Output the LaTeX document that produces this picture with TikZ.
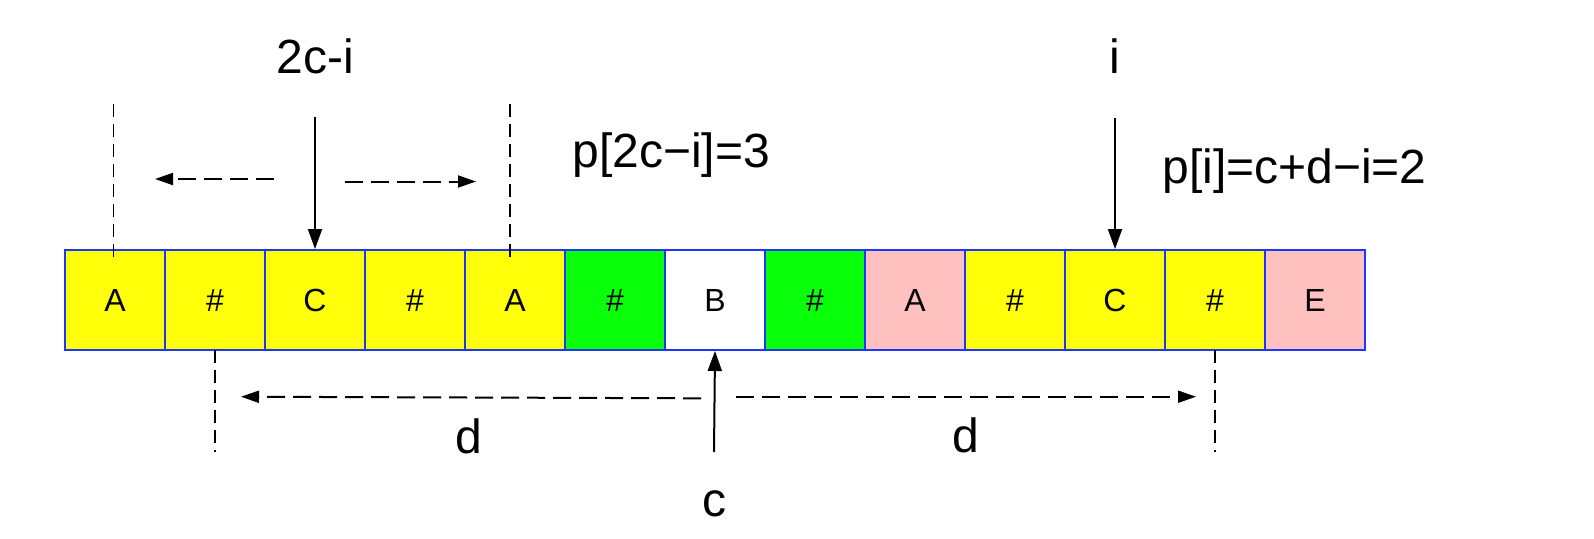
\documentclass[tikz,border=0pt]{standalone}
\usepackage{fontspec}
\setmainfont{Liberation Sans}
\usetikzlibrary{arrows.meta}
\definecolor{cyel}{RGB}{255,255,10}
\definecolor{cgrn}{RGB}{10,255,10}
\definecolor{cpink}{RGB}{255,192,192}
\definecolor{cblue}{RGB}{25,55,255}
\tikzset{
  cell/.style={draw=cblue, line width=1pt, minimum width=50pt, minimum height=50pt,
    inner sep=0pt, font=\fontsize{16}{19}\selectfont, text height=11.5pt, text depth=0pt},
  big/.style={inner sep=0pt, font=\fontsize{24}{29}\selectfont},
  solidarrow/.style={line width=1pt, -{Triangle[length=10pt,width=7pt]}},
  dasharrow/.style={line width=1pt, dash pattern=on 9pt off 4pt, -{Triangle[length=9pt,width=6pt]}},
  vdash/.style={line width=0.9pt, dash pattern=on 6.5pt off 3.5pt}
}
\begin{document}
\begin{tikzpicture}[x=0.5pt,y=-0.5pt]
\useasboundingbox (0,0) rectangle (1594,538);
% cells
\node[cell, fill=cyel]  (c1)  at (115,300) {A};
\node[cell, fill=cyel]  (c2)  at (215,300) {\#};
\node[cell, fill=cyel]  (c3)  at (315,300) {C};
\node[cell, fill=cyel]  (c4)  at (415,300) {\#};
\node[cell, fill=cyel]  (c5)  at (515,300) {A};
\node[cell, fill=cgrn]  (c6)  at (615,300) {\#};
\node[cell, fill=white] (c7)  at (715,300) {B};
\node[cell, fill=cgrn]  (c8)  at (815,300) {\#};
\node[cell, fill=cpink] (c9)  at (915,300) {A};
\node[cell, fill=cyel]  (c10) at (1015,300) {\#};
\node[cell, fill=cyel]  (c11) at (1115,300) {C};
\node[cell, fill=cyel]  (c12) at (1215,300) {\#};
\node[cell, fill=cpink] (c13) at (1315,300) {E};
% labels
\node[big, anchor=base] (l2ci) at (315,73) {2c-i};
\node[big, anchor=base] (li) at (1115,73) {i};
\node[big, anchor=base west] (lp1) at (572,167) {p[2c−i]=3};
\node[big, anchor=base west] (lp2) at (1162,183) {p[i]=c+d−i=2};
\node[big, anchor=base] (ld1) at (469,453) {d};
\node[big, anchor=base] (ld2) at (966,452) {d};
\node[big, anchor=base] (lc) at (714,516) {c};
% coordinates
\coordinate (a1s) at (315,117);
\coordinate (a2s) at (1115,118);
\coordinate (a3s) at (714,452);
\coordinate (v1t) at (113.5,104); \coordinate (v1b) at (113.5,257);
\coordinate (v2t) at (510,104);   \coordinate (v2b) at (510,257);
\coordinate (v3t) at (214.6,350); \coordinate (v3b) at (214.6,452);
\coordinate (v4t) at (1215,350);  \coordinate (v4b) at (1215,452);
\coordinate (h1s) at (274,179);   \coordinate (h1e) at (155,179);
\coordinate (h2s) at (345,181.5); \coordinate (h2e) at (476,181.5);
\coordinate (h3s) at (701,398.3); \coordinate (h3e) at (241,396.7);
\coordinate (h4s) at (736,396.7); \coordinate (h4e) at (1196,396.7);
% connectors
\draw[solidarrow] (a1s) -- (c3.north);
\draw[solidarrow] (a2s) -- (c11.north);
\draw[solidarrow] (a3s) -- (c7.south);
\draw[vdash] (v1t) -- (v1b);
\draw[vdash] (v2t) -- (v2b);
\draw[vdash] (v3t) -- (v3b);
\draw[vdash] (v4t) -- (v4b);
\draw[dasharrow] (h1s) -- (h1e);
\draw[dasharrow] (h2s) -- (h2e);
\draw[dasharrow] (h3s) -- (h3e);
\draw[dasharrow] (h4s) -- (h4e);
\end{tikzpicture}
\end{document}
